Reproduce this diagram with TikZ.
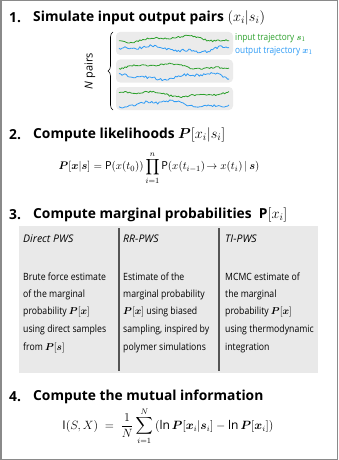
\documentclass[tikz,border=0pt]{standalone}
\usepackage{amsmath}
\usepackage{fontspec}
\setmainfont{Open Sans}
\newfontfamily\condfont[FakeStretch=0.87]{Open Sans}
\usepackage{bm}
\usetikzlibrary{decorations.pathreplacing}

\definecolor{trajgreen}{HTML}{2CA02C}
\definecolor{trajblue}{HTML}{2E9BF5}
\definecolor{boxgrey}{HTML}{EBEBEB}
\definecolor{tablegrey}{HTML}{E9E9E9}
\definecolor{framegrey}{HTML}{8A8A8A}
\definecolor{dividergrey}{HTML}{555555}

\tikzset{
  headnum/.style={anchor=west, font=\fontsize{13.8}{15}\selectfont\bfseries, inner sep=0pt},
  headtext/.style={anchor=west, font=\fontsize{13.8}{15}\selectfont\bfseries, inner sep=0pt},
  colhead/.style={anchor=west, font=\fontsize{10.5}{12}\selectfont\itshape, inner sep=0pt},
  colline/.style={anchor=west, font=\fontsize{10}{12}\selectfont\condfont, inner sep=0pt},
  trajlabel/.style={anchor=west, font=\fontsize{9.5}{11}\selectfont\condfont, inner sep=0pt},
  trajbox/.style={fill=boxgrey, draw=none, rounded corners=4pt},
  trajline/.style={line width=0.8pt, line join=round}
}

\begin{document}
\begin{tikzpicture}[x=1pt, y=-1pt]
  \useasboundingbox (0,0) rectangle (338,460);
  % Rahmen um das ganze Bild
  \draw[framegrey, line width=1.5pt] (0.75,0.75) rectangle (337.25,459.25);

  % 1. Trajektorienpaare
  \node[headnum] (h1num) at (9,18) {1.};
  \node[headtext] (h1) at (33,18) {Simulate input output pairs $(x_i|s_i)$};
  \pgfmathsetseed{11}
  \foreach \k/\ph in {0/0, 1/70, 2/150} {
    \fill[trajbox] (116,32+27.5*\k) rectangle ++(117,23);
    \draw[trajline, trajgreen] plot[domain=119:229, samples=75]
      (\x, {39+27.5*\k + 2.2*sin(3.5*\x+\ph) + 1.2*sin(9*\x+2*\ph) + 0.9*rand});
    \draw[trajline, trajblue] plot[domain=119:229, samples=75]
      (\x, {49+27.5*\k + 2.5*sin(4*\x+2*\ph+40) + 1.2*sin(11*\x+\ph) + 1.3*rand});
  }
  \coordinate (bracebot) at (113,110);
  \coordinate (bracetop) at (113,32);
  \draw[decorate, decoration={brace, amplitude=5pt}, semithick] (bracebot) -- (bracetop);
  \node[rotate=90, font=\fontsize{11}{13}\selectfont, inner sep=0pt] (npairs) at (90,71) {\textit{N} pairs};
  \node[trajlabel, trajgreen] (inlab) at (235,38) {input trajectory $\bm{s}_1$};
  \node[trajlabel, trajblue] (outlab) at (235,51) {output trajectory $\bm{x}_1$};

  % 2. Likelihoods
  \node[headnum] (h2num) at (9,135) {2.};
  \node[headtext] (h2) at (33,135) {Compute likelihoods $\bm{P}[x_i|s_i]$};
  \node[font=\fontsize{11}{13}\selectfont] (lik) at (159,168)
    {$\bm{P}[\bm{x}|\bm{s}] = \text{P}(x(t_0))\displaystyle\prod_{i=1}^{n}\text{P}(x(t_{i-1})\!\rightarrow x(t_i)\,|\,\bm{s})$};

  % 3. Randwahrscheinlichkeiten
  \node[headnum] (h3num) at (9,215) {3.};
  \node[headtext] (h3) at (33,215) {Compute marginal probabilities~~$\text{P}[x_i]$};
  \fill[tablegrey] (19,226) rectangle (318,373);
  \draw[dividergrey, line width=1.5pt] (119,228) -- (119,371);
  \draw[dividergrey, line width=1.5pt] (219,228) -- (219,371);
  \node[colhead] (c1head) at (23,239) {Direct PWS};
  \node[colhead] (c2head) at (123,239) {RR-PWS};
  \node[colhead] (c3head) at (225,239) {TI-PWS};
  \foreach \t [count=\k] in {Brute force estimate, of the marginal, {probability $\bm{P}[\bm{x}]$}, using direct samples, {from $\bm{P}[\bm{s}]$}}
    \node[colline] (c1line\k) at (23,259+17.8*\k) {\t};
  \foreach \t [count=\k] in {Estimate of the, marginal probability, {$\bm{P}[\bm{x}]$ using biased}, {sampling, inspired by}, polymer simulations}
    \node[colline] (c2line\k) at (123,259+17.8*\k) {\t};
  \foreach \t [count=\k] in {MCMC estimate of, the marginal, {probability $\bm{P}[\bm{x}]$}, using thermodynamic, integration}
    \node[colline] (c3line\k) at (225,259+17.8*\k) {\t};

  % 4. Transinformation
  \node[headnum] (h4num) at (9,397) {4.};
  \node[headtext] (h4) at (33,397) {Compute the mutual information};
  \node[font=\fontsize{12}{14}\selectfont] (mi) at (168,426)
    {$\mathrm{I}(S,X)\;=\;\dfrac{1}{N}\displaystyle\sum_{i=1}^{N}\,(\ln\bm{P}[\bm{x}_i|\bm{s}_i]-\ln\bm{P}[\bm{x}_i])$};
\end{tikzpicture}
\end{document}
